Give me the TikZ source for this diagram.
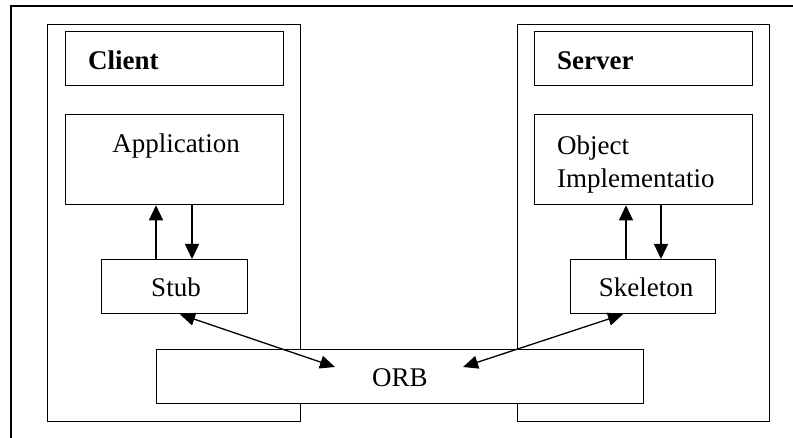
\documentclass[tikz,border=0pt]{standalone}
\usepackage{fontspec}
\setmainfont{Liberation Serif}
\usetikzlibrary{arrows.meta}
\begin{document}
\begin{tikzpicture}[x=1pt,y=-1pt,
  box/.style={draw=black,line width=1.3pt,fill=white,inner sep=0pt,anchor=north west},
  txt/.style={inner sep=0pt,anchor=base west,font=\fontsize{27}{33}\selectfont},
  arr/.style={line width=1.3pt,-{Triangle[length=15pt,width=14pt]}},
  darr/.style={line width=1.3pt,{Triangle[length=15pt,width=13pt]}-{Triangle[length=15pt,width=13pt]}}]
\useasboundingbox (0,0) rectangle (793,438);
\fill[white] (0,0) rectangle (793,438);
% outer frame (cropped)
\draw[line width=1.3pt] (11,438) -- (11,6) -- (793,6);
% containers
\node[box,minimum width=253pt,minimum height=397pt] (clientc) at (47,24) {};
\node[box,minimum width=252pt,minimum height=397pt] (serverc) at (517,24) {};
% headers
\node[box,minimum width=218pt,minimum height=54pt] (clienth) at (65,31) {};
\node[txt] (clientt) at (88,70) {\textbf{Client}};
\node[box,minimum width=218pt,minimum height=54pt] (serverh) at (534,31) {};
\node[txt] (servert) at (557,70) {\textbf{Server}};
% application / object implementation
\node[box,minimum width=218pt,minimum height=90pt] (app) at (65,114) {};
\node[txt,anchor=base] (appt) at (176,153) {Application};
\node[box,minimum width=218pt,minimum height=90pt] (obj) at (534,114) {};
\node[txt] (objt1) at (557,155) {Object};
\node[txt] (objt2) at (557,188) {Implementatio};
% stub / skeleton
\node[box,minimum width=146pt,minimum height=54pt] (stub) at (101,259) {};
\node[txt,anchor=base] (stubt) at (176,297) {Stub};
\node[box,minimum width=145pt,minimum height=54pt] (skel) at (570,259) {};
\node[txt,anchor=base] (skelt) at (646,297) {Skeleton};
% ORB
\node[box,minimum width=487pt,minimum height=54pt] (orb) at (156,349) {};
\node[txt,anchor=base] (orbt) at (400,387) {ORB};
% vertical arrows
\draw[arr] (156,0 |- stub.north) -- (156,0 |- app.south);
\draw[arr] (192,0 |- app.south) -- (192,0 |- stub.north);
\draw[arr] (626,0 |- skel.north) -- (626,0 |- obj.south);
\draw[arr] (661,0 |- obj.south) -- (661,0 |- skel.north);
% diagonal arrows
\coordinate (orbl) at (335,367);
\coordinate (orbr) at (463,367);
\draw[darr] (180,0 |- stub.south) -- (orbl);
\draw[darr] (623,0 |- skel.south) -- (orbr);
\end{tikzpicture}
\end{document}
